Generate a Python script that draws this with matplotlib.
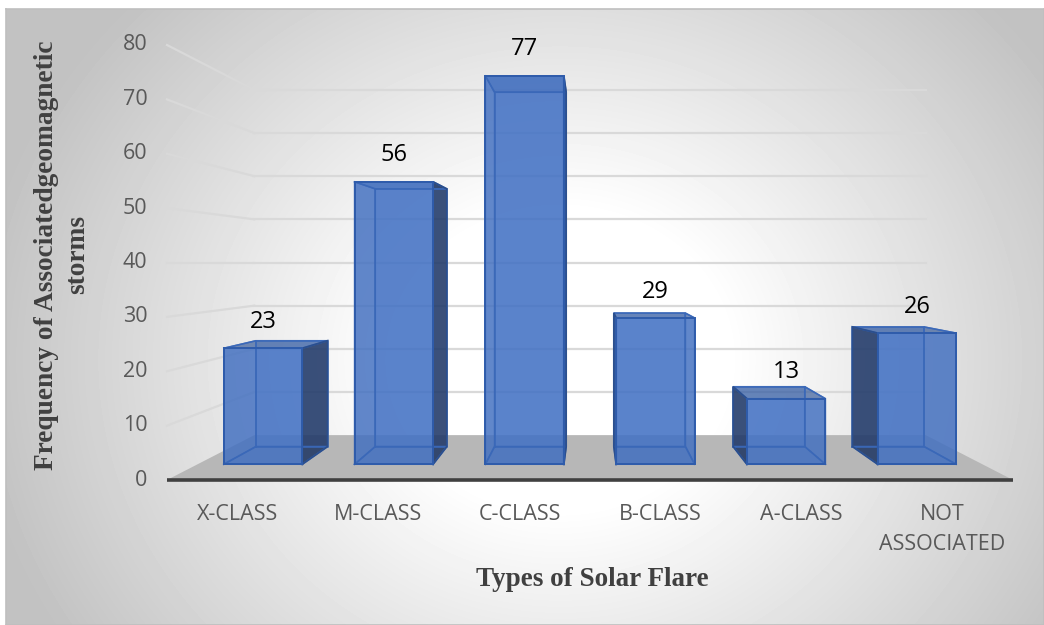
import matplotlib
matplotlib.use("Agg")
import matplotlib.pyplot as plt
import numpy as np
from matplotlib.patches import Polygon

categories = ["X-CLASS", "M-CLASS", "C-CLASS", "B-CLASS", "A-CLASS", "NOT\nASSOCIATED"]
storms = [23, 56, 77, 29, 13, 26]
yticks = [0, 10, 20, 30, 40, 50, 60, 70, 80]

plt.rcParams['font.family'] = ['Open Sans', 'DejaVu Sans']

# simple one-point perspective: vanishing point in the middle of the front plane
VX, VY = 3.0, 40.0
DEPTH_K = 0.26
BAR_W = 0.6
D_FRONT, D_BACK = 0.3, 0.7


def proj(x, v, d):
    f = 1.0 / (1.0 + DEPTH_K * d)
    return VX + (x - VX) * f, VY + (v - VY) * f


def face(ax, pts, fc, alpha, z):
    poly = Polygon([proj(*p) for p in pts], closed=True, fc=fc, ec='none',
                   alpha=alpha, zorder=z, clip_on=False)
    ax.add_patch(poly)


def outline(ax, pts, color, lw, z, alpha=1.0):
    xy = [proj(*p) for p in pts] + [proj(*pts[0])]
    ax.plot([p[0] for p in xy], [p[1] for p in xy], color=color, lw=lw,
            alpha=alpha, zorder=z, clip_on=False, solid_joinstyle='miter')


fig = plt.figure(figsize=(10.44, 6.25), dpi=100)

# chart area with radial grey fill
bg = fig.add_axes([6 / 1044, 0, 1038 / 1044, 616 / 625])
h, w = 616, 1038
uu, ww = np.meshgrid(np.linspace(0, 1, w), np.linspace(0, 1, h))
r = np.sqrt(((uu - 0.534) / 0.54) ** 2 + ((ww - 0.57) / 0.81) ** 2)
shade = 1 - 0.24 * np.clip((r - 0.3) / 0.75, 0, 1)
bg.imshow(shade, cmap='gray', vmin=0, vmax=1, extent=(0, 1, 0, 1),
          aspect='auto', interpolation='bilinear')
bg.set_xticks([])
bg.set_yticks([])
for s in bg.spines.values():
    s.set_color('#bfbfbf')
    s.set_linewidth(1.2)

ax = fig.add_axes([167 / 1044, 145 / 625, 846 / 1044, 435 / 625])
ax.set_xlim(0, 6)
ax.set_ylim(0, 80)
ax.axis('off')
ax.patch.set_alpha(0)

n = len(categories)

# floor
face(ax, [(0, 0, 0), (n, 0, 0), (n, 0, 1), (0, 0, 1)], '#b7b7b7', 1.0, 1)

# gridlines on the back and left walls
for v in yticks[1:]:
    b0, b1 = proj(0, v, 1), proj(n, v, 1)
    f0 = proj(0, v, 0)
    ax.plot([b0[0], b1[0]], [b0[1], b1[1]], color='#d9d9d9', lw=1.6, zorder=0.5)
    ax.plot([f0[0], b0[0]], [f0[1], b0[1]], color='#d9d9d9', lw=1.6, zorder=0.5,
            clip_on=False)

# front edge of the floor
ax.plot([0, n], [0, 0], color='#404040', lw=2.6, solid_capstyle='butt',
        zorder=2, clip_on=False)

for v in yticks:
    ax.annotate(str(v), (0, v), xytext=(-14, 0), textcoords='offset points',
                ha='right', va='center', fontsize=15.5, color='#595959',
                annotation_clip=False)

for i, lab in enumerate(categories):
    ax.annotate(lab, (i + 0.5, 0), xytext=(0, -17.5), textcoords='offset points',
                ha='center', va='top', fontsize=15.5, color='#595959',
                linespacing=1.55, annotation_clip=False)

# 3-D columns
for i, v in enumerate(storms):
    x0, x1 = i + 0.5 - BAR_W / 2, i + 0.5 + BAR_W / 2
    d0, d1 = D_FRONT, D_BACK
    front = [(x0, 0, d0), (x1, 0, d0), (x1, v, d0), (x0, v, d0)]
    back = [(x0, 0, d1), (x1, 0, d1), (x1, v, d1), (x0, v, d1)]
    bottom = [(x0, 0, d0), (x1, 0, d0), (x1, 0, d1), (x0, 0, d1)]
    top = [(x0, v, d0), (x1, v, d0), (x1, v, d1), (x0, v, d1)]
    left = [(x0, 0, d0), (x0, 0, d1), (x0, v, d1), (x0, v, d0)]
    right = [(x1, 0, d0), (x1, 0, d1), (x1, v, d1), (x1, v, d0)]
    if i + 0.5 < VX:
        hidden_side, seen_side = left, right
    else:
        hidden_side, seen_side = right, left
    z = 3
    face(ax, back, '#4472c4', 0.45, z)
    face(ax, bottom, '#2f528f', 0.35, z + 0.1)
    face(ax, hidden_side, '#2f528f', 0.25, z + 0.2)
    face(ax, top, '#2f5597', 0.55, z + 0.3)
    face(ax, seen_side, '#1f3560', 0.8, z + 0.4)
    face(ax, front, '#4472c4', 0.78, z + 0.5)
    for pts in (back, bottom, top, hidden_side):
        outline(ax, pts, '#3a68b8', 1.1, z + 0.6, alpha=0.9)
    outline(ax, seen_side, '#2b4f8e', 1.3, z + 0.7)
    outline(ax, front, '#2f5cab', 1.4, z + 0.8)

    ax.annotate(str(v), proj(i + 0.5, v, d0), xytext=(0, 19),
                textcoords='offset points', ha='center', va='center',
                fontsize=17, color='black', annotation_clip=False)

fig.text(62 / 1044, 1 - 255 / 625, "Frequency of Associatedgeomagnetic\nstorms",
         rotation=90, ha='center', va='center', multialignment='center',
         family='Liberation Serif', weight='bold', fontsize=19.7,
         color='#404040', linespacing=1.28)
fig.text(592 / 1044, 1 - 580 / 625, "Types of Solar Flare", ha='center',
         va='center', family='Liberation Serif', weight='bold', fontsize=19.5,
         color='#404040')

fig.savefig("out.png", dpi=100)
